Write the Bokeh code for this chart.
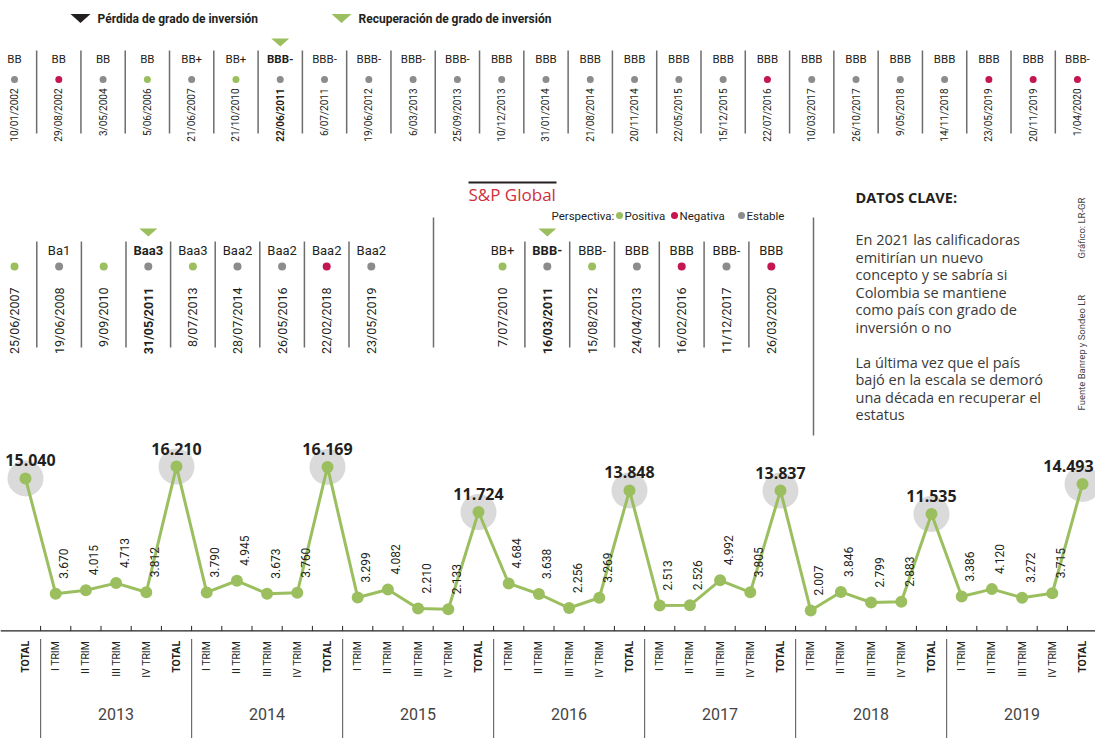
import numpy as np
from bokeh.plotting import figure
from bokeh.models import Range1d, ColumnDataSource, Span
from bokeh.core.properties import value
from bokeh.embed import file_html
from bokeh.resources import INLINE

# ---------------- data ----------------
fitch_dates = ["10/01/2002", "29/08/2002", "3/05/2004", "5/06/2006", "21/06/2007", "21/10/2010",
               "22/06/2011", "6/07/2011", "19/06/2012", "6/03/2013", "25/09/2013", "10/12/2013",
               "31/01/2014", "21/08/2014", "20/11/2014", "22/05/2015", "15/12/2015", "22/07/2016",
               "10/03/2017", "26/10/2017", "9/05/2018", "14/11/2018", "23/05/2019", "20/11/2019",
               "1/04/2020"]
fitch_ratings = ["BB", "BB", "BB", "BB", "BB+", "BB+", "BBB-", "BBB-", "BBB-", "BBB-", "BBB-", "BBB",
                 "BBB", "BBB", "BBB", "BBB", "BBB", "BBB", "BBB", "BBB", "BBB", "BBB", "BBB", "BBB",
                 "BBB-"]
fitch_outlook = ["E", "N", "E", "P", "E", "P", "E", "E", "E", "E", "E", "E", "E", "E", "E", "E", "E",
                 "N", "E", "E", "E", "E", "N", "N", "N"]
fitch_ig = 6

moodys_dates = ["25/06/2007", "19/06/2008", "9/09/2010", "31/05/2011", "8/07/2013", "28/07/2014",
                "26/05/2016", "22/02/2018", "23/05/2019"]
moodys_ratings = ["", "Ba1", "", "Baa3", "Baa3", "Baa2", "Baa2", "Baa2", "Baa2"]
moodys_outlook = ["P", "E", "P", "E", "P", "E", "E", "N", "E"]
moodys_ig = 3

sp_dates = ["7/07/2010", "16/03/2011", "15/08/2012", "24/04/2013", "16/02/2016", "11/12/2017",
            "26/03/2020"]
sp_ratings = ["BB+", "BBB-", "BBB-", "BBB", "BBB", "BBB-", "BBB"]
sp_outlook = ["P", "E", "P", "E", "N", "E", "N"]
sp_ig = 1

periods = ["TOTAL"] + ["I TRIM", "II TRIM", "III TRIM", "IV TRIM", "TOTAL"] * 7
years = ["2013", "2014", "2015", "2016", "2017", "2018", "2019"]
values = [15.040,
          3.670, 4.015, 4.713, 3.812, 16.210,
          3.790, 4.945, 3.673, 3.760, 16.169,
          3.299, 4.082, 2.210, 2.133, 11.724,
          4.684, 3.638, 2.256, 3.269, 13.848,
          2.513, 2.526, 4.992, 3.805, 13.837,
          2.007, 3.846, 2.799, 2.883, 11.535,
          3.386, 4.120, 3.272, 3.715, 14.493]

datos_title = "DATOS CLAVE:"
datos_lines = ["En 2021 las calificadoras", "emitirían un nuevo", "concepto y se sabría si",
               "Colombia se mantiene", "como país con grado de", "inversión o no", "",
               "La última vez que el país", "bajó en la escala se demoró",
               "una década en recuperar el", "estatus"]

# ---------------- style ----------------
GREEN = "#9bbf5f"
RED = "#c4174f"
GRAY = "#8c8c8c"
TXT = "#231f20"
SEP = "#6d6d6d"
HALO = "#dadada"
NARROW = value("Roboto")
SANS = value("Open Sans")
OUT_COL = {"P": GREEN, "N": RED, "E": GRAY}

W, H = 1095, 738
p = figure(width=W, height=H, x_range=Range1d(0, W), y_range=Range1d(H, 0),
           output_backend="svg", toolbar_location=None, min_border=0,
           x_axis_type=None, y_axis_type=None)
p.outline_line_color = None
p.grid.visible = False

# line chart scales
X0, DX = 25.0, 30.2
Y0, DY = 630.4, 10.14
p.extra_x_ranges = {"idx": Range1d((0 - X0) / DX, (W - X0) / DX)}
p.extra_y_ranges = {"val": Range1d((Y0 - H) / DY, (Y0 - 0) / DY)}


def tri(cx, cy, w, h):
    return [cx - w / 2, cx + w / 2, cx], [cy - h / 2, cy - h / 2, cy + h / 2]


# ---------------- legend ----------------
for cx, col, label in [(80, TXT, "Pérdida de grado de inversión"),
                       (341, GREEN, "Recuperación de grado de inversión")]:
    xs, ys = tri(cx, 18, 20, 9)
    p.patch(xs, ys, fill_color=col, line_color=None)
    p.text([cx + 17], [18], text=[label], text_font=NARROW, text_font_size="12px",
           text_font_style="bold", text_color=TXT, text_baseline="middle", text_align="left")


# ---------------- rating rows ----------------
def rating_row(dates, ratings, outlook, ig, x0, dx, y_rat, y_dot, y_date, sep_y0, sep_y1,
               rat_size, date_size, dot_size, tri_y):
    n = len(dates)
    xs = [x0 + dx * i for i in range(n)]
    style = ["bold" if i == ig else "normal" for i in range(n)]
    src = ColumnDataSource(dict(x=xs, rat=ratings, date=dates, style=style,
                                col=[OUT_COL[o] for o in outlook],
                                yr=[y_rat] * n, yd=[y_dot] * n, ydt=[y_date] * n))
    p.text("x", "yr", text="rat", source=src, text_font=NARROW, text_font_size=rat_size,
           text_font_style="style", text_color=TXT, text_align="center", text_baseline="middle")
    p.scatter("x", "yd", source=src, size=dot_size, fill_color="col", line_color=None)
    p.text("x", "ydt", text="date", source=src, angle=np.pi / 2, text_font=NARROW,
           text_font_size=date_size, text_font_style="style", text_color=TXT,
           text_align="right", text_baseline="middle")
    sx = [(xs[i] + xs[i + 1]) / 2 for i in range(n - 1)]
    p.segment(sx, [sep_y0] * len(sx), sx, [sep_y1] * len(sx), line_color=SEP, line_width=1.5)
    txs, tys = tri(xs[ig], tri_y, 18, 8)
    p.patch(txs, tys, fill_color=GREEN, line_color=None)


rating_row(fitch_dates, fitch_ratings, fitch_outlook, fitch_ig, 14, 44.29, 58, 79, 88, 50, 133,
           "11.5px", "10px", 7, 42)
rating_row(moodys_dates, moodys_ratings, moodys_outlook, moodys_ig, 14, 44.6, 250, 266, 287, 241,
           347, "13px", "12.5px", 8, 232)
rating_row(sp_dates, sp_ratings, sp_outlook, sp_ig, 502, 44.8, 250, 266, 287, 241, 347,
           "13px", "12.5px", 8, 232)

# S&P header
p.segment([468], [182], [556], [182], line_color=TXT, line_width=2)
p.text([468], [194], text=["S&P Global"], text_font=SANS, text_font_size="17px",
       text_color="#cf2e3a", text_baseline="middle", text_align="left")
p.text([551], [215], text=["Perspectiva:"], text_font=NARROW, text_font_size="11.5px",
       text_color=TXT, text_baseline="middle", text_align="left")
for dx_, col, lab in [(619, GREEN, "Positiva"), (674, RED, "Negativa"), (741, GRAY, "Estable")]:
    p.scatter([dx_], [215], size=7, fill_color=col, line_color=None)
    p.text([dx_ + 5], [215], text=[lab], text_font=NARROW, text_font_size="11.5px",
           text_color=TXT, text_baseline="middle", text_align="left")

# framing lines
p.segment([433, 813], [217, 217], [433, 813], [347, 435], line_color=SEP, line_width=1.5)

# Datos clave
p.text([855], [197], text=[datos_title], text_font=SANS, text_font_size="14.5px",
       text_font_style="bold", text_color=TXT, text_baseline="middle", text_align="left")
p.text([855] * len(datos_lines), [239 + 17.5 * i for i in range(len(datos_lines))],
       text=datos_lines, text_font=SANS, text_font_size="14.5px", text_color="#3a3a3a",
       text_baseline="middle", text_align="left")

# credits
p.text([1081, 1081], [258, 410], text=["Gráfico: LR-GR", "Fuente Banrep y Sondeo LR"],
       angle=np.pi / 2, text_font=NARROW, text_font_size="9.5px", text_color="#444444",
       text_baseline="middle", text_align="left")

# ---------------- line chart ----------------
idx = np.arange(len(values))
vals = np.array(values)
is_tot = np.array([per == "TOTAL" for per in periods])
lab = [f"{v:.3f}" for v in values]
kw = dict(x_range_name="idx", y_range_name="val")

p.add_layout(Span(location=0, dimension="width", line_color=TXT, line_width=1.2, **kw))
bnd = idx[:-1] + 0.5
p.segment(bnd, np.zeros(len(bnd)), bnd, np.full(len(bnd), 5 / DY), line_color=TXT,
          line_width=1, **kw)

p.scatter(idx[is_tot], vals[is_tot], size=36, fill_color=HALO, line_color=None, **kw)
p.line(idx, vals, line_color=GREEN, line_width=3, **kw)
p.scatter(idx, vals, size=12, fill_color=GREEN, line_color=None, **kw)

tot_idx = idx[is_tot]
tot_shift = [5 if i == tot_idx[0] else (-14 if i == tot_idx[-1] else 0) for i in tot_idx]
tsrc = ColumnDataSource(dict(x=tot_idx, y=vals[is_tot] + 18 / DY,
                             t=[l for l, t in zip(lab, is_tot) if t], dx=tot_shift))
p.text("x", "y", text="t", source=tsrc, x_offset="dx", text_font=SANS,
       text_font_size="16px", text_font_style="bold", text_color=TXT, text_align="center",
       text_baseline="middle", **kw)
qsrc = ColumnDataSource(dict(x=idx[~is_tot] + 8 / DX, y=vals[~is_tot] + 15 / DY,
                             t=[l for l, t in zip(lab, is_tot) if not t]))
p.text("x", "y", text="t", source=qsrc, angle=np.pi / 2, text_font=NARROW,
       text_font_size="12px", text_color=TXT, text_align="left", text_baseline="middle", **kw)

# category labels
csrc = ColumnDataSource(dict(x=idx, y=np.full(len(idx), -10 / DY), t=periods,
                             st=["bold" if t else "normal" for t in is_tot]))
p.text("x", "y", text="t", source=csrc, angle=np.pi / 2, text_font=NARROW,
       text_font_size="10.5px", text_font_style="st", text_color=TXT, text_align="right",
       text_baseline="middle", **kw)

# year separators and labels
ysep = np.array([0.5 + 5 * k for k in range(len(years))])
p.segment(ysep, np.full(len(ysep), -8 / DY), ysep, np.full(len(ysep), -110 / DY),
          line_color=SEP, line_width=1.2, **kw)
p.text(ysep + 2.5, np.full(len(ysep), -83 / DY), text=years, text_font=NARROW,
       text_font_size="16px", text_color="#444444", text_align="center",
       text_baseline="middle", **kw)

open("out.html", "w").write(file_html(p, INLINE))
